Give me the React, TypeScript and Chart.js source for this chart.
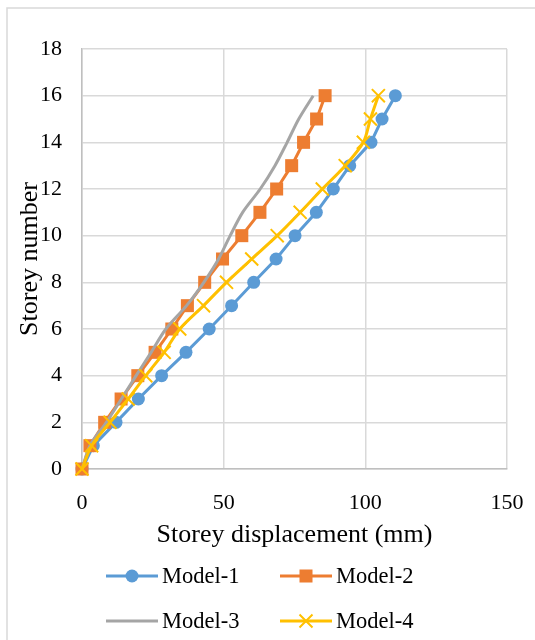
import React, { useEffect, useRef } from "react";
import { Chart, registerables } from "chart.js";

Chart.register(...registerables);

const storeys = [0, 1, 2, 3, 4, 5, 6, 7, 8, 9, 10, 11, 12, 13, 14, 15, 16];
const model1 = [0, 4.0, 12.0, 19.9, 28.1, 36.7, 44.9, 52.8, 60.6, 68.5, 75.2, 82.7, 88.7, 94.5, 102.0, 105.9, 110.6];
const model2 = [0, 2.8, 8.0, 13.8, 19.7, 25.8, 31.7, 37.2, 43.3, 49.6, 56.4, 62.8, 68.7, 74.0, 78.2, 82.8, 85.8];
const model3 = [0, 2.8, 8.6, 13.9, 19.1, 24.4, 29.6, 36.9, 43.0, 48.2, 52.3, 56.7, 62.9, 68.1, 72.4, 76.5, 81.6];
const model4 = [0, 3.4, 9.9, 16.3, 22.5, 29.0, 34.5, 42.9, 51.0, 59.9, 68.9, 77.0, 84.8, 92.9, 99.3, 101.8, 104.6];
const seriesNames = ["Model-1", "Model-2", "Model-3", "Model-4"];
const xTitle = "Storey displacement (mm)";
const yTitle = "Storey number";

const FONT = "'Liberation Serif', 'Times New Roman', serif";
const COLORS = ["#5B9BD5", "#ED7D31", "#A5A5A5", "#FFC000"];
const STYLES = ["circle", "rect", false, "crossRot"];

const toPts = (xs: number[]) => xs.map((x, i) => ({ x, y: storeys[i] }));

function drawMarker(ctx: CanvasRenderingContext2D, style: any, x: number, y: number, color: string) {
  ctx.save();
  ctx.fillStyle = color;
  ctx.strokeStyle = color;
  if (style === "circle") {
    ctx.beginPath();
    ctx.arc(x, y, 6.5, 0, Math.PI * 2);
    ctx.fill();
  } else if (style === "rect") {
    ctx.fillRect(x - 6.5, y - 6.5, 13, 13);
  } else if (style === "crossRot") {
    ctx.lineWidth = 2;
    const d = 6.5;
    ctx.beginPath();
    ctx.moveTo(x - d, y - d);
    ctx.lineTo(x + d, y + d);
    ctx.moveTo(x - d, y + d);
    ctx.lineTo(x + d, y - d);
    ctx.stroke();
  }
  ctx.restore();
}

const framePlugin = {
  id: "frameAndLegend",
  beforeDraw(chart: any) {
    const ctx = chart.ctx;
    ctx.save();
    ctx.fillStyle = "#ffffff";
    ctx.fillRect(0, 0, chart.width, chart.height);
    ctx.strokeStyle = "#d9d9d9";
    ctx.lineWidth = 1.5;
    ctx.beginPath();
    ctx.moveTo(7, chart.height);
    ctx.lineTo(7, 8);
    ctx.lineTo(chart.width, 8);
    ctx.stroke();
    ctx.restore();
  },
  afterDraw(chart: any) {
    const ctx = chart.ctx;
    const cols = [106, 280];
    const rows = [576, 621];
    ctx.save();
    seriesNames.forEach((name, i) => {
      const x0 = cols[i % 2];
      const y = rows[Math.floor(i / 2)];
      ctx.strokeStyle = COLORS[i];
      ctx.lineWidth = 3;
      ctx.beginPath();
      ctx.moveTo(x0, y);
      ctx.lineTo(x0 + 52, y);
      ctx.stroke();
      drawMarker(ctx, STYLES[i], x0 + 26, y, COLORS[i]);
      ctx.fillStyle = "#000000";
      ctx.font = `22.5px ${FONT}`;
      ctx.textBaseline = "middle";
      ctx.textAlign = "left";
      ctx.fillText(name, x0 + 56, y + 1);
    });
    ctx.restore();
  },
};

export default function App() {
  const ref = useRef<HTMLCanvasElement | null>(null);

  useEffect(() => {
    if (!ref.current) return;
    const all = [model1, model2, model3, model4];
    const chart = new Chart(ref.current, {
      type: "scatter",
      data: {
        datasets: all.map((vals, i) => ({
          label: seriesNames[i],
          data: toPts(vals),
          showLine: true,
          borderColor: COLORS[i],
          backgroundColor: COLORS[i],
          borderWidth: 3,
          pointStyle: STYLES[i] as any,
          pointRadius: STYLES[i] === false ? 0 : STYLES[i] === "rect" ? 9.2 : STYLES[i] === "crossRot" ? 9.2 : 6.5,
          pointBorderWidth: STYLES[i] === "crossRot" ? 2 : 0,
          pointBorderColor: COLORS[i],
          pointHoverRadius: 0,
          tension: i >= 2 ? 0.3 : 0,
          clip: false as any,
          order: 4 - i,
        })),
      },
      options: {
        animation: false,
        responsive: false,
        maintainAspectRatio: false,
        events: [],
        layout: { padding: { top: 49, right: 28, left: 0, bottom: 81 } },
        plugins: {
          legend: { display: false },
          tooltip: { enabled: false },
        },
        scales: {
          x: {
            type: "linear",
            min: 0,
            max: 150,
            afterFit: (s: any) => {
              s.height = 90;
              s.paddingLeft = 0;
              s.paddingRight = 0;
            },
            ticks: {
              stepSize: 50,
              color: "#000000",
              padding: 21,
              font: { family: FONT, size: 22 },
            },
            grid: { color: "#d9d9d9", lineWidth: 1.5, drawTicks: false },
            border: { color: "#bfbfbf", width: 1.5 },
            title: {
              display: true,
              text: xTitle,
              color: "#000000",
              font: { family: FONT, size: 26 },
              padding: { top: 0, bottom: 8 },
            },
          },
          y: {
            type: "linear",
            min: 0,
            max: 18,
            afterFit: (s: any) => {
              s.width = 82;
              s.paddingTop = 0;
              s.paddingBottom = 0;
            },
            ticks: {
              stepSize: 2,
              color: "#000000",
              padding: 20,
              font: { family: FONT, size: 22 },
            },
            grid: { color: "#d9d9d9", lineWidth: 1.5, drawTicks: false },
            border: { color: "#bfbfbf", width: 1.5 },
            title: {
              display: true,
              text: yTitle,
              color: "#000000",
              font: { family: FONT, size: 26 },
              padding: { top: 15, bottom: 0 },
            },
          },
        },
      },
      plugins: [framePlugin],
    });
    return () => chart.destroy();
  }, []);

  return (
    <div style={{ position: "fixed", left: 0, top: 0, width: 535, height: 640, background: "#fff" }}>
      <canvas ref={ref} width={535} height={640} style={{ width: 535, height: 640, display: "block" }} />
    </div>
  );
}
